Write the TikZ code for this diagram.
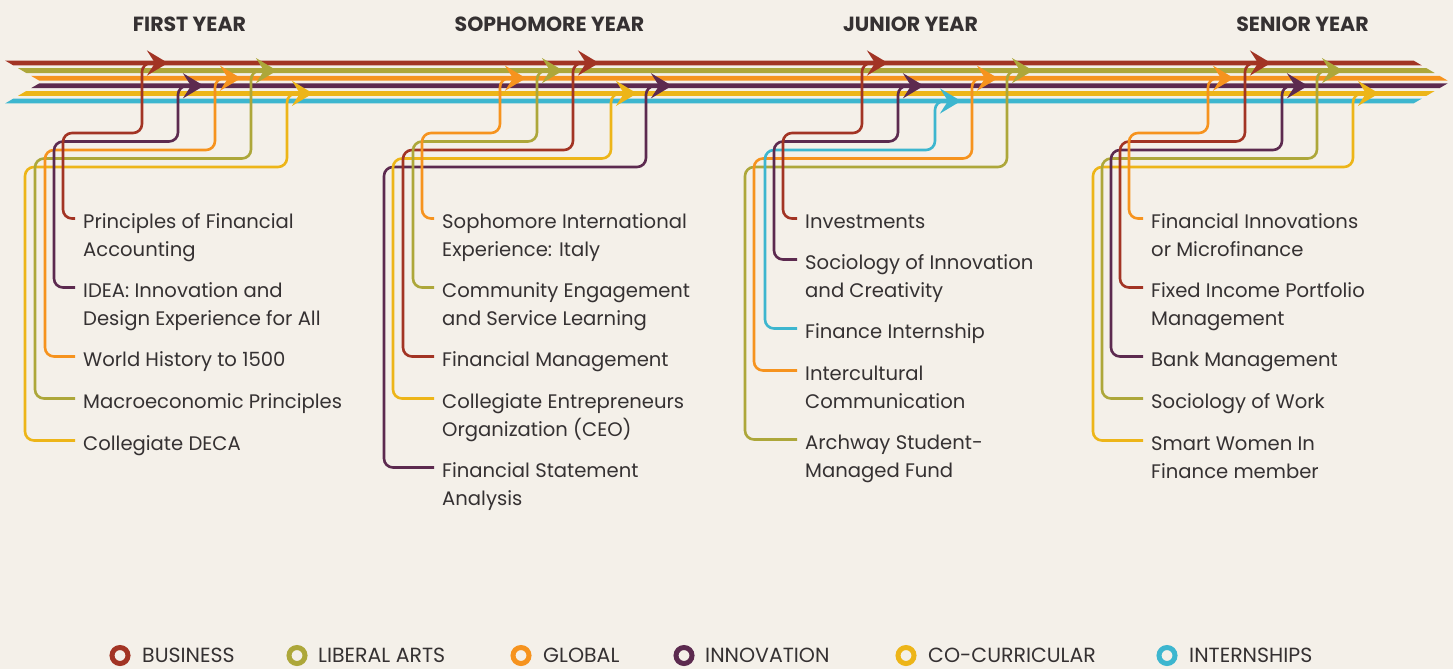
\documentclass[tikz,border=0pt]{standalone}
\usepackage{fontspec}
\setmainfont{Poppins}
\usetikzlibrary{arrows.meta}
\definecolor{bg}{HTML}{F4F0E9}
\definecolor{txt}{HTML}{353132}
\definecolor{cBus}{HTML}{A23424}
\definecolor{cLib}{HTML}{ADA73A}
\definecolor{cGlo}{HTML}{F6931E}
\definecolor{cInn}{HTML}{5C2A4F}
\definecolor{cCo}{HTML}{EDB518}
\definecolor{cInt}{HTML}{3DB6CF}
\newcommand\twol[2]{\vtop{\baselineskip=28pt\lineskiplimit=-100pt\hbox{#1}\hbox{#2}}}
\newcommand\mline[2]{\fill[#1] ({5+1.7*(21.5-abs(#2-2.4-82))},{#2-2.4}) -- ({1450-1.7*abs(#2-2.4-82)},{#2-2.4}) -- ({1450-1.7*abs(#2+2.4-82)},{#2+2.4}) -- ({5+1.7*(21.5-abs(#2+2.4-82))},{#2+2.4}) -- cycle;}
\newcommand\mkconn[6]{\coordinate (#2t) at ({#5+26},#6);
\draw[conn,#1] ([xshift=-8pt,yshift=9.5pt]#2.base west) -| (#3,#4) -| (#5,#6) -- (#2t);}
\begin{document}
\begin{tikzpicture}[x=1pt,y=-1pt,
  conn/.style={line width=2.6pt, rounded corners=9pt, -{Stealth[length=21pt,width=25pt,inset=8pt]}},
  item/.style={anchor=base west, inner sep=0pt, text=txt, font=\fontsize{19.6}{28}\selectfont},
  ttl/.style={anchor=base, inner sep=0pt, text=txt, font=\fontsize{20.5}{24}\selectfont\bfseries},
  ring/.style={circle, draw, line width=5pt, minimum size=16pt, inner sep=0pt},
  lgt/.style={anchor=base west, inner sep=0pt, text=txt, font=\fontsize{20.5}{24}\selectfont}]
\fill[bg] (0,0) rectangle (1453,669);
\useasboundingbox (0,0) rectangle (1453,669);
% titles
\node[ttl] (t1) at (189.5,31.5) {FIRST YEAR};
\node[ttl] (t2) at (549.5,31.5) {SOPHOMORE YEAR};
\node[ttl] (t3) at (910.5,31.5) {JUNIOR YEAR};
\node[ttl] (t4) at (1302.5,31.5) {SENIOR YEAR};
% main lines
\mline{cBus}{63}
\mline{cLib}{70.6}
\mline{cGlo}{78.2}
\mline{cInn}{85.8}
\mline{cCo}{93.4}
\mline{cInt}{101}
% first year
\node[item] (a1) at (83,228) {\twol{Principles of Financial}{Accounting}};
\node[item] (a2) at (83,297) {\twol{IDEA: Innovation and}{Design Experience for All}};
\node[item] (a3) at (83,366) {World History to 1500};
\node[item] (a4) at (83,408) {Macroeconomic Principles};
\node[item] (a5) at (83,450) {Collegiate DECA};
\mkconn{cCo}{a5}{25}{167}{287}{93.4}
\mkconn{cLib}{a4}{35}{158.5}{251}{70.6}
\mkconn{cGlo}{a3}{45}{150}{215}{78.2}
\mkconn{cInn}{a2}{54}{141.5}{178}{85.8}
\mkconn{cBus}{a1}{63}{133}{142}{63}
% sophomore year
\node[item] (b1) at (442,228) {\twol{Sophomore International}{Experience: Italy}};
\node[item] (b2) at (442,297) {\twol{Community Engagement}{and Service Learning}};
\node[item] (b3) at (442,366) {Financial Management};
\node[item] (b4) at (442,408) {\twol{Collegiate Entrepreneurs}{Organization (CEO)}};
\node[item] (b5) at (442,477) {\twol{Financial Statement}{Analysis}};
\mkconn{cInn}{b5}{384}{167}{646}{85.8}
\mkconn{cCo}{b4}{393}{158.5}{611}{93.4}
\mkconn{cBus}{b3}{403}{150}{573}{63}
\mkconn{cLib}{b2}{413}{141.5}{537}{70.6}
\mkconn{cGlo}{b1}{422}{133}{500}{78.2}
% junior year
\node[item] (c1) at (805,228) {Investments};
\node[item] (c2) at (805,269) {\twol{Sociology of Innovation}{and Creativity}};
\node[item] (c3) at (805,338) {Finance Internship};
\node[item] (c4) at (805,380) {\twol{Intercultural}{Communication}};
\node[item] (c5) at (805,449) {\twol{Archway Student-}{Managed Fund}};
\mkconn{cLib}{c5}{745}{167}{1007}{70.6}
\mkconn{cGlo}{c4}{754}{158.5}{972}{78.2}
\mkconn{cInt}{c3}{765}{150}{935}{101}
\mkconn{cInn}{c2}{774}{141.5}{898}{85.8}
\mkconn{cBus}{c1}{783}{133}{862}{63}
% senior year
\node[item] (d1) at (1151,228) {\twol{Financial Innovations}{or Microfinance}};
\node[item] (d2) at (1151,297) {\twol{Fixed Income Portfolio}{Management}};
\node[item] (d3) at (1151,366) {Bank Management};
\node[item] (d4) at (1151,408) {Sociology of Work};
\node[item] (d5) at (1151,450) {\twol{Smart Women In}{Finance member}};
\mkconn{cCo}{d5}{1093}{167}{1353}{93.4}
\mkconn{cLib}{d4}{1102}{158.5}{1317}{70.6}
\mkconn{cInn}{d3}{1111}{150}{1282}{85.8}
\mkconn{cBus}{d2}{1120}{141.5}{1245}{63}
\mkconn{cGlo}{d1}{1129}{133}{1208}{78.2}
% legend
\node[ring, draw=cBus] (l1) at (120,655.5) {};
\node[lgt] (m1) at (142,662.5) {BUSINESS};
\node[ring, draw=cLib] (l2) at (297,655.5) {};
\node[lgt] (m2) at (318,662.5) {LIBERAL ARTS};
\node[ring, draw=cGlo] (l3) at (521,655.5) {};
\node[lgt] (m3) at (543,662.5) {GLOBAL};
\node[ring, draw=cInn] (l4) at (684,655.5) {};
\node[lgt] (m4) at (705,662.5) {INNOVATION};
\node[ring, draw=cCo] (l5) at (906,655.5) {};
\node[lgt] (m5) at (928,662.5) {CO-CURRICULAR};
\node[ring, draw=cInt] (l6) at (1167,655.5) {};
\node[lgt] (m6) at (1189,662.5) {INTERNSHIPS};
\end{tikzpicture}
\end{document}
